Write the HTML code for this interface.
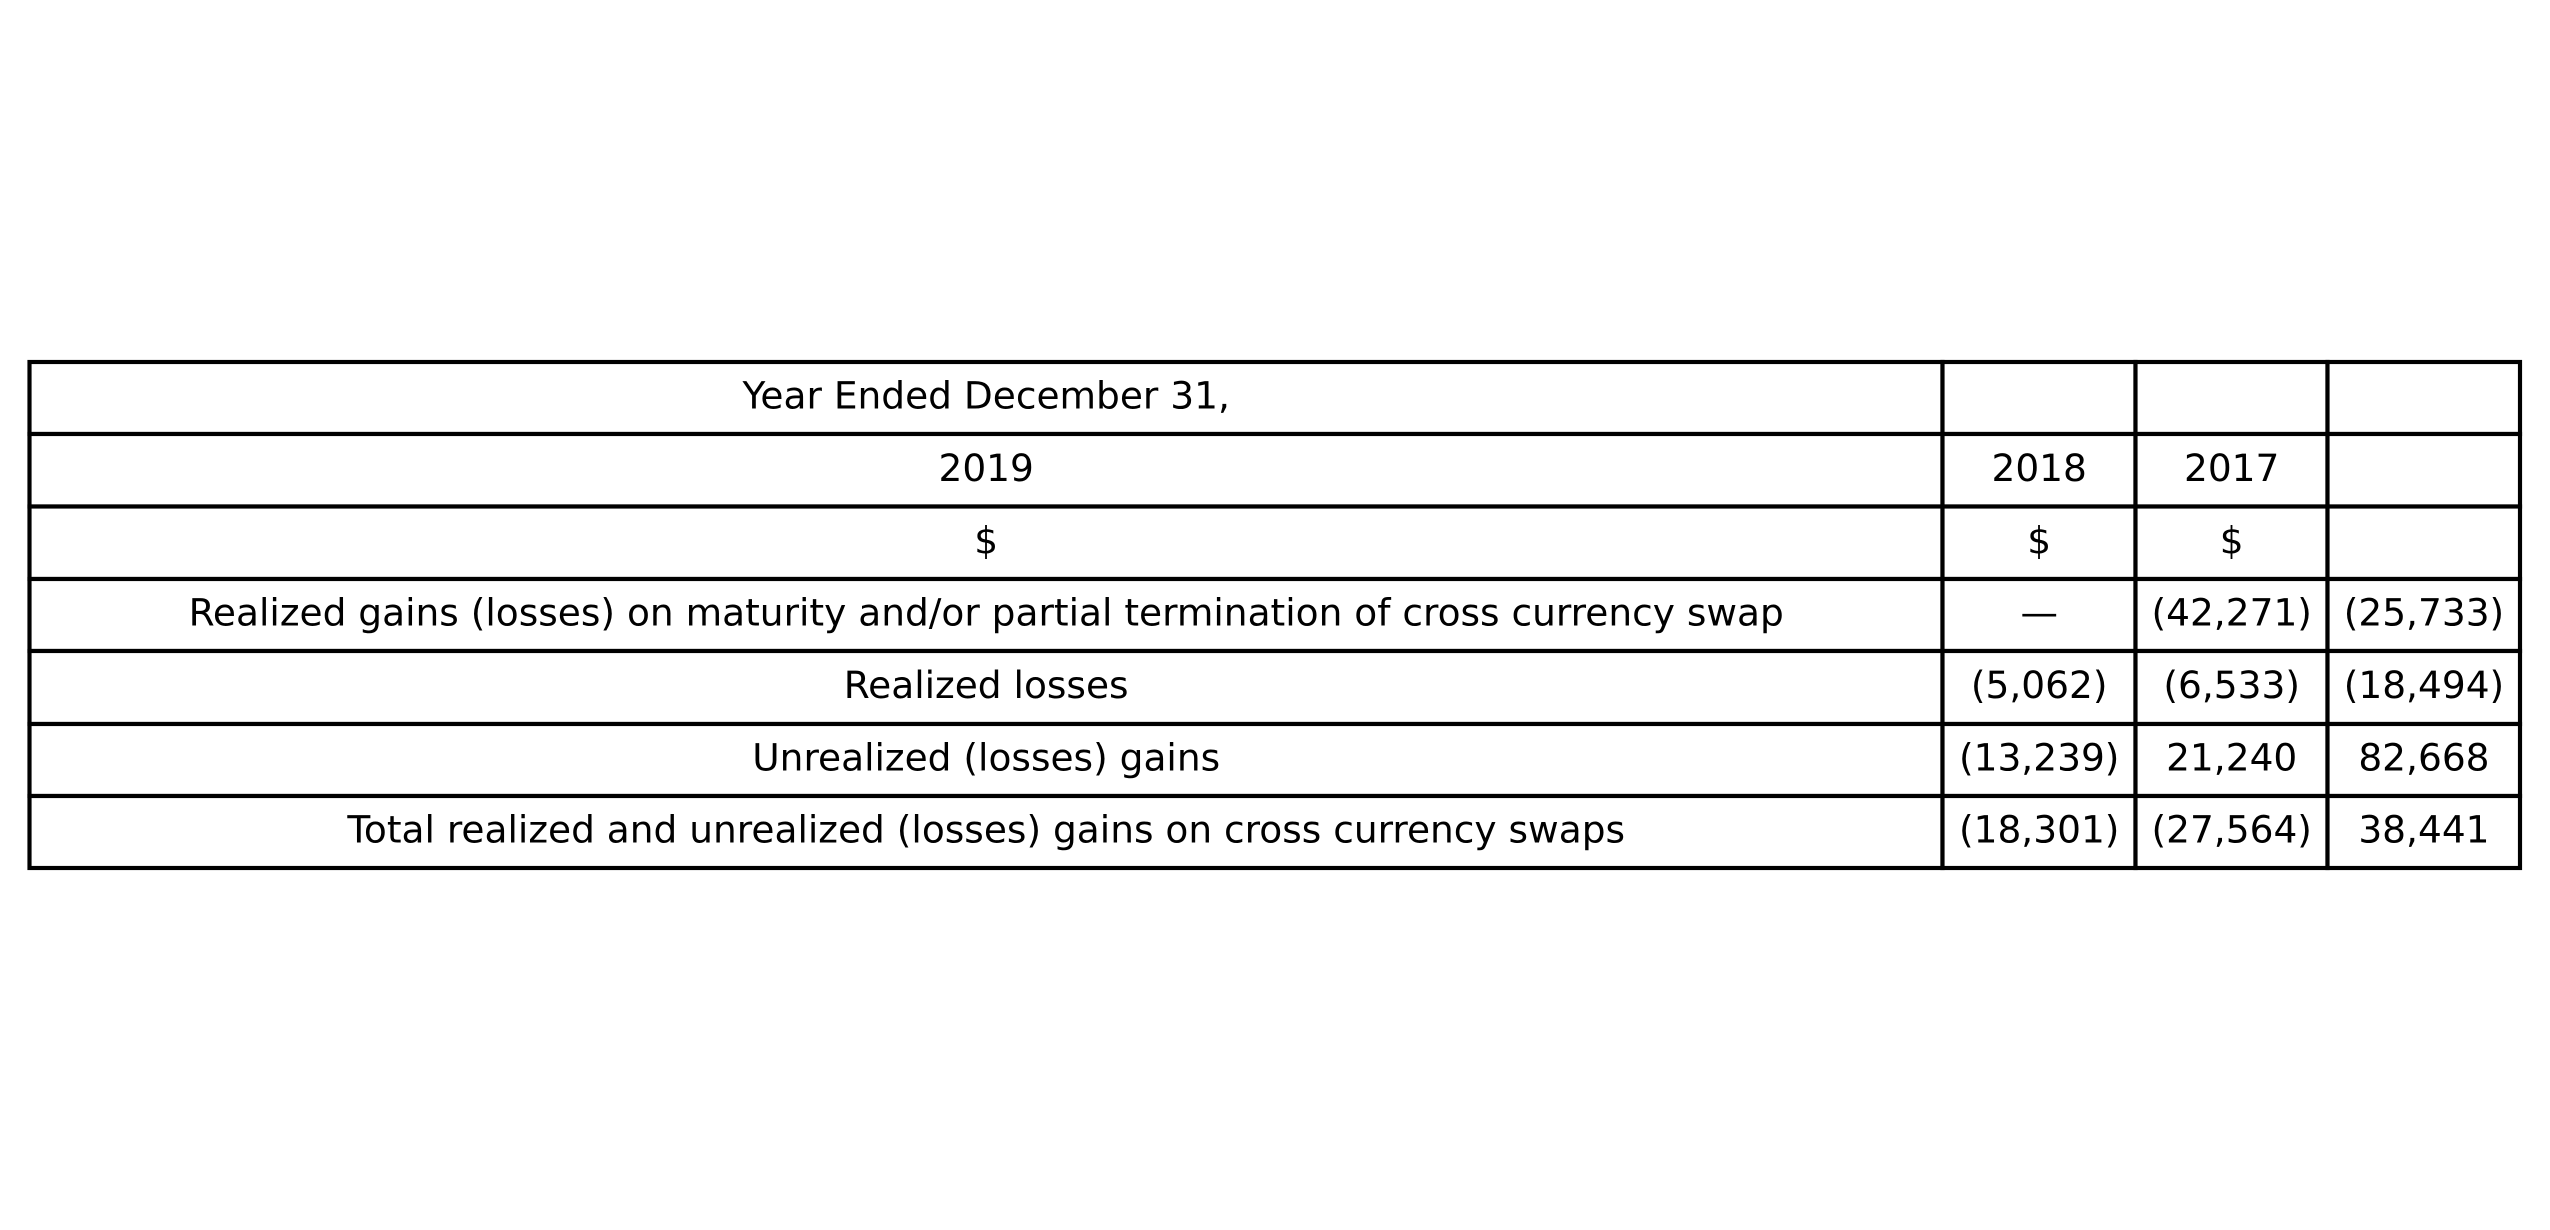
<!DOCTYPE html>
<html lang="en">
<head>
<meta charset="utf-8">
<title>Realized and unrealized gains on cross currency swaps</title>
<style>
html,body{margin:0;padding:0;background:#fff;width:2550px;height:1230px;overflow:hidden}
svg{display:block}
rect{fill:#fff;stroke:#000;stroke-width:4.17}
text{font-family:"DejaVu Sans",sans-serif;font-size:37.5px;fill:#000;text-anchor:middle;text-rendering:geometricPrecision}
</style>
</head>
<body>
<svg id="table" width="2550" height="1230" viewBox="0 0 2550 1230" xmlns="http://www.w3.org/2000/svg"></svg>
<script>
const colEdges = [29.5, 1942.5, 2135.5, 2327.5, 2520];
const rowEdges = [362, 434, 506.5, 579, 651, 724, 796, 868];
const rows = [
  ["Year Ended December 31,", "", "", ""],
  ["2019", "2018", "2017", ""],
  ["$", "$", "$", ""],
  ["Realized gains (losses) on maturity and/or partial termination of cross currency swap", "—", "(42,271)", "(25,733)"],
  ["Realized losses", "(5,062)", "(6,533)", "(18,494)"],
  ["Unrealized (losses) gains", "(13,239)", "21,240", "82,668"],
  ["Total realized and unrealized (losses) gains on cross currency swaps", "(18,301)", "(27,564)", "38,441"]
];
const svg = document.getElementById('table');
const NS = 'http://www.w3.org/2000/svg';
rows.forEach((row, r) => {
  row.forEach((label, c) => {
    const cell = document.createElementNS(NS, 'rect');
    cell.setAttribute('x', colEdges[c]);
    cell.setAttribute('y', rowEdges[r]);
    cell.setAttribute('width', colEdges[c + 1] - colEdges[c]);
    cell.setAttribute('height', rowEdges[r + 1] - rowEdges[r]);
    
    
    svg.appendChild(cell);
    if (label) {
      const t = document.createElementNS(NS, 'text');
      t.setAttribute('x', (colEdges[c] + colEdges[c + 1]) / 2 + 0.2);
      t.setAttribute('y', (rowEdges[r] + rowEdges[r + 1]) / 2 + 10.5);
      
      
      t.textContent = label;
      svg.appendChild(t);
    }
  });
});
</script>
</body>
</html>
